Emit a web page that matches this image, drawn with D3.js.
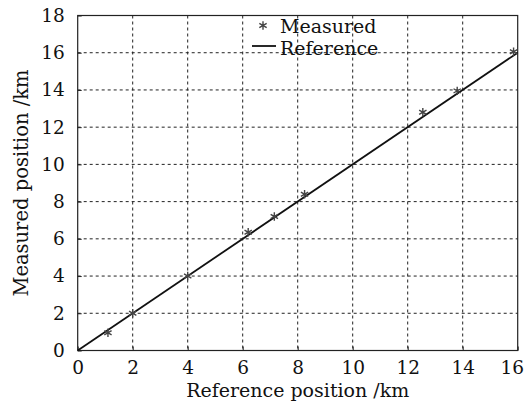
<!DOCTYPE html>
<html>
<head>
<meta charset="utf-8">
<script src="https://cdn.jsdelivr.net/npm/d3@7"></script>
<style>
  body { margin: 0; background: #fff; }
  text { font-family: "DejaVu Serif", serif; fill: #111; }
</style>
</head>
<body>
<div id="chart"></div>
<script>
// measured positions (km)
const refPos = [1.1, 2.0, 4.0, 6.2, 7.15, 8.25, 12.55, 13.8, 15.85];
const measPos = [0.95, 2.0, 4.0, 6.35, 7.2, 8.4, 12.8, 13.95, 16.05];
// reference line end points
const lineX = [0, 16];
const lineY = [0, 16];
const xTicks = [0, 2, 4, 6, 8, 10, 12, 14, 16];
const yTicks = [0, 2, 4, 6, 8, 10, 12, 14, 16, 18];

const width = 524, height = 403;
const margin = { top: 15.5, right: 6.3, bottom: 52.5, left: 77.7 };
const w = width - margin.left - margin.right,
  h = height - margin.top - margin.bottom;

const svg = d3.select("#chart").append("svg")
  .attr("width", width).attr("height", height);

const g = svg.append("g")
  .attr("transform", "translate(" + margin.left + "," + margin.top + ")");

const x = d3.scaleLinear().domain([0, 16]).range([0, w]);
const y = d3.scaleLinear().domain([0, 18]).range([h, 0]);

// grid
g.append("g").selectAll("line")
  .data(xTicks.slice(1, -1))
  .enter().append("line")
  .attr("x1", d => x(d)).attr("x2", d => x(d))
  .attr("y1", 0).attr("y2", h)
  .attr("stroke", "#222").attr("stroke-width", 1)
  .attr("stroke-dasharray", "3,3");

g.append("g").selectAll("line")
  .data(yTicks.slice(1, -1))
  .enter().append("line")
  .attr("y1", d => y(d)).attr("y2", d => y(d))
  .attr("x1", 0).attr("x2", w)
  .attr("stroke", "#222").attr("stroke-width", 1)
  .attr("stroke-dasharray", "3,3");

// axes
const xAxis = g.append("g")
  .attr("transform", "translate(0," + h + ")")
  .call(d3.axisBottom(x).tickValues(xTicks).tickSize(-4).tickPadding(10));
const yAxis = g.append("g")
  .call(d3.axisLeft(y).tickValues(yTicks).tickSize(-4).tickPadding(13));
[xAxis, yAxis].forEach(a => {
  a.select(".domain").remove();
  a.selectAll("line").attr("stroke", "#222");
  a.selectAll("text").style("font-size", "18.5px").style("font-family", "DejaVu Serif").attr("fill", "#111");
});
// last x label sits against the right edge, as in the original
xAxis.selectAll(".tick").filter(d => d === 16).select("text").attr("dx", -6);

// frame
g.append("rect")
  .attr("width", w).attr("height", h)
  .attr("fill", "none").attr("stroke", "#222").attr("stroke-width", 1.2);

// reference line
const line = d3.line().x(d => x(d[0])).y(d => y(d[1]));
g.append("path")
  .datum(d3.zip(lineX, lineY))
  .attr("d", line)
  .attr("fill", "none").attr("stroke", "#111").attr("stroke-width", 1.8);

// measured markers
const star = d3.symbol().type(d3.symbolAsterisk).size(50);
g.selectAll(".pt")
  .data(d3.zip(refPos, measPos))
  .enter().append("path")
  .attr("class", "pt")
  .attr("transform", d => "translate(" + x(d[0]) + "," + y(d[1]) + ")")
  .attr("d", star)
  .attr("fill", "none").attr("stroke", "#444").attr("stroke-width", 1.4);

// legend
const leg = svg.append("g");
leg.append("path")
  .attr("transform", "translate(263,25.5)")
  .attr("d", star)
  .attr("fill", "none").attr("stroke", "#444").attr("stroke-width", 1.4);
leg.append("text").attr("x", 280).attr("y", 33).style("font-size", "19px").text("Measured");
leg.append("line")
  .attr("x1", 252).attr("x2", 276).attr("y1", 46).attr("y2", 46)
  .attr("stroke", "#111").attr("stroke-width", 1.8);
leg.append("text").attr("x", 280).attr("y", 55).style("font-size", "19px").text("Reference");

// axis titles
svg.append("text")
  .attr("x", margin.left + w / 2).attr("y", 397)
  .attr("text-anchor", "middle").style("font-size", "19px")
  .text("Reference position /km");
svg.append("text")
  .attr("transform", "translate(28," + (margin.top + h / 2) + ") rotate(-90)")
  .attr("text-anchor", "middle").style("font-size", "19.5px")
  .text("Measured position /km");
</script>
</body>
</html>
